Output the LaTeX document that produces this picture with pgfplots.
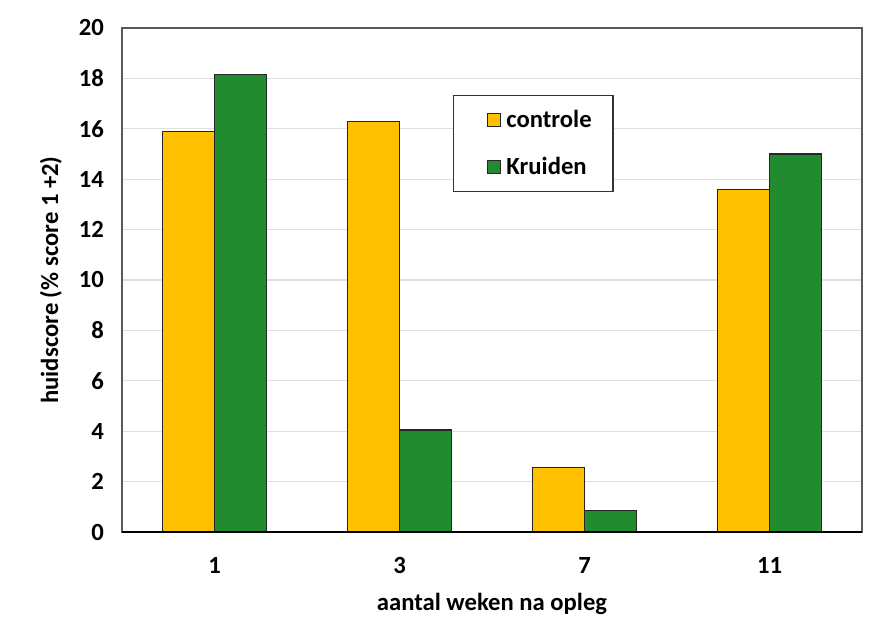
\documentclass[border=0pt]{standalone}
\usepackage{pgfplots}
\pgfplotsset{compat=1.18}
\usepackage{fontspec}
\setmainfont{Carlito}
\definecolor{ctrl}{HTML}{FFC000}
\definecolor{krd}{HTML}{228B30}
\definecolor{frame}{HTML}{595959}
\begin{document}
\begin{tikzpicture}
\path[use as bounding box] (0pt,0pt) rectangle (660pt,470.25pt);
\begin{axis}[
  at={(91.5pt,71.25pt)}, anchor=south west,
  scale only axis, width=555pt, height=378pt,
  ybar=0pt, bar width=39pt,
  xmin=-0.5, xmax=3.5, ymin=0, ymax=20,
  xtick=data, xticklabels={1,3,7,11},
  ytick={0,2,...,20},
  ymajorgrids, grid style={draw=gray!25, line width=0.8pt},
  axis line style={draw=frame, line width=1pt},
  tick style={draw=none},
  font=\bfseries\fontsize{18.5}{21}\selectfont,
  /pgf/number format/assume math mode=true,
  yticklabel style={xshift=-10pt},
  xticklabel style={yshift=-11pt},
  ylabel={huidscore (\% score 1 +2)},
  xlabel={aantal weken na opleg},
  ylabel style={yshift=6pt},
  xlabel style={yshift=-8pt},
  legend style={at={(0.447,0.867)}, anchor=north west, draw=black!80, line width=0.9pt,
    inner xsep=14pt, inner ysep=9pt, row sep=17pt, column sep=2pt,
    font=\bfseries\fontsize{18.5}{21}\selectfont},
  legend image code/.code={\path (-11pt,0pt); \draw[#1, line width=0.7pt] (0pt,-5pt) rectangle (10pt,5pt);},
  legend cell align=left,
]
\addplot[fill=ctrl, draw=black!85, line width=0.9pt] coordinates {(0,15.9) (1,16.3) (2,2.55) (3,13.6)};
\addplot[fill=krd, draw=black!85, line width=0.9pt] coordinates {(0,18.15) (1,4.05) (2,0.85) (3,15.0)};
\legend{controle, Kruiden}
\draw[black, line width=1pt] (rel axis cs:0,0) -- (rel axis cs:1,0);
\end{axis}
\end{tikzpicture}
\end{document}
